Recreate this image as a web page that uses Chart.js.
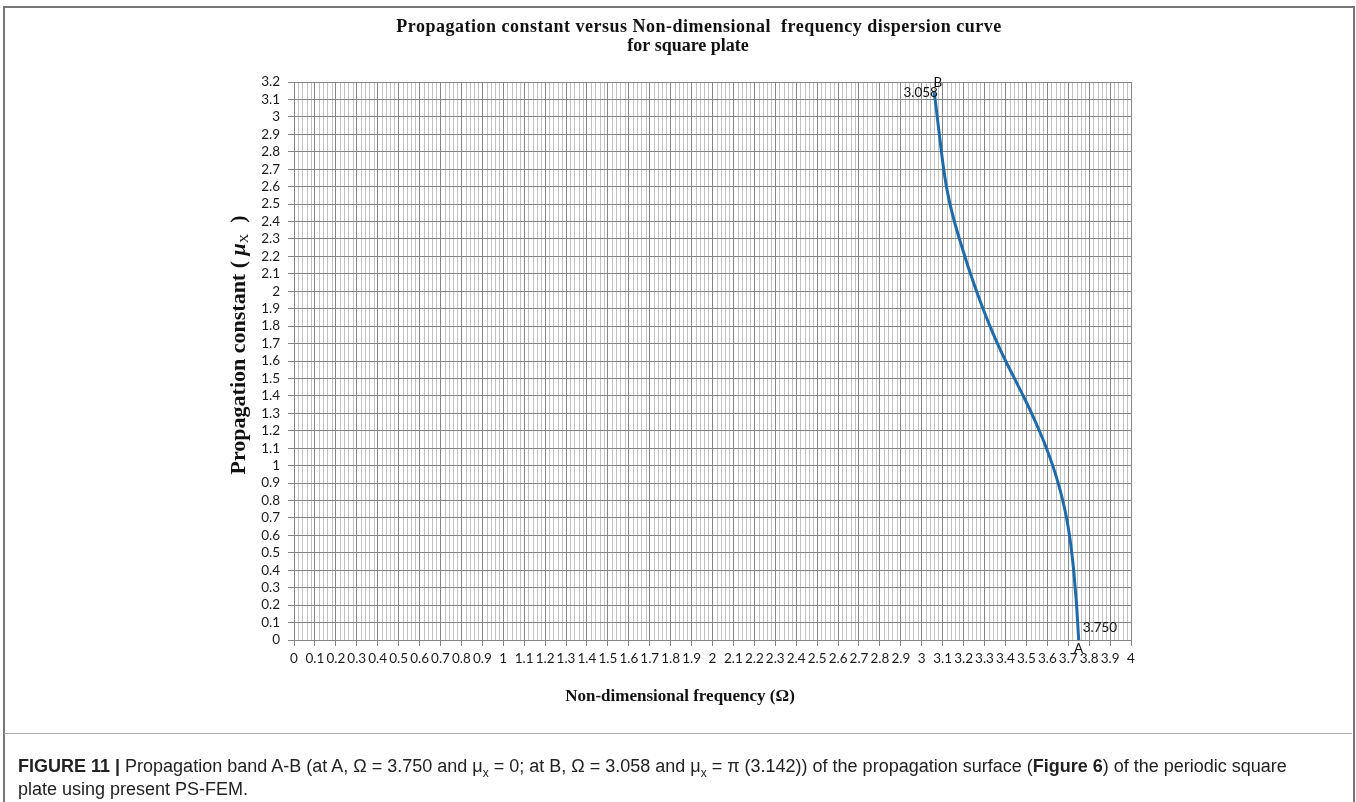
<!DOCTYPE html>
<html>
<head>
<meta charset="utf-8">
<script src="https://cdn.jsdelivr.net/npm/chart.js@4.4.1/dist/chart.umd.min.js"></script>
<style>
    html, body { margin: 0; padding: 0; background: #fff; }
    body { width: 1356px; height: 802px; position: relative; overflow: hidden; }
    #wrap { position: absolute; left: 0; top: 0; width: 1356px; height: 733px; }
    .frame { position: absolute; left: 3px; top: 6px; width: 1348px; height: 900px;
        border: 2px solid #777; border-bottom: none; pointer-events: none; }
    .sep { position: absolute; left: 4px; top: 733px; width: 1348px; height: 1px; background: #aaa; }
    .caption { position: absolute; left: 18px; top: 755px; width: 1330px;
        font: 18px "Liberation Sans", Arial, sans-serif; line-height: 23px; color: #222; }
    .caption sub { font-size: 12px; line-height: 0; }
</style>
</head>
<body>
<div id="wrap"><canvas id="dispersionChart"></canvas></div>
<div class="frame"></div>
<div class="sep"></div>
<div class="caption"><b>FIGURE 11 |</b> Propagation band A-B (at A, Ω = 3.750 and μ<sub>x</sub> = 0; at B, Ω = 3.058 and μ<sub>x</sub> = π (3.142)) of the propagation surface (<b>Figure 6</b>) of the periodic square<br>plate using present PS-FEM.</div>

<script>
// Дані кривої дисперсії (Ω, μx), від точки A до точки B
const omega = [3.750, 3.745, 3.740, 3.733, 3.726, 3.717, 3.706, 3.692, 3.674, 3.652, 3.626,
    3.596, 3.562, 3.525, 3.485, 3.443, 3.401, 3.362, 3.326, 3.293, 3.262, 3.233,
    3.206, 3.180, 3.156, 3.135, 3.118, 3.105, 3.094, 3.084, 3.074, 3.064, 3.058];
const mu = [0, 0.1, 0.2, 0.3, 0.4, 0.5, 0.6, 0.7, 0.8, 0.9, 1.0,
    1.1, 1.2, 1.3, 1.4, 1.5, 1.6, 1.7, 1.8, 1.9, 2.0, 2.1,
    2.2, 2.3, 2.4, 2.5, 2.6, 2.7, 2.8, 2.9, 3.0, 3.1, 3.142];

const pointLabels = ['3.750', '3.058'];
const pointNames = ['A', 'B'];

const titleLines = ['Propagation constant versus Non-dimensional  frequency dispersion curve', 'for square plate'];
const xTitle = 'Non-dimensional frequency (Ω)';

const xMin = 0, xMax = 4, xStep = 0.1, xMinorStep = 0.02;
const yMin = 0, yMax = 3.2, yStep = 0.1;

const serif = '"Liberation Serif", "Times New Roman", serif';
const tickFont = { family: 'Lato, "Open Sans", sans-serif', size: 13.5 };

const fmt = v => String(Number(v.toFixed(1)));

// Дрібна сітка по X (під основною)
const minorGrid = {
    id: 'minorGrid',
    beforeDraw(chart) {
        const { ctx, chartArea, scales } = chart;
        const n = Math.round((xMax - xMin) / xMinorStep);
        const ratio = Math.round(xStep / xMinorStep);
        ctx.save();
        ctx.strokeStyle = '#c2c2c2';
        ctx.lineWidth = 1;
        ctx.beginPath();
        for (let k = 0; k <= n; k++) {
            if (k % ratio === 0) continue;
            const x = Math.round(scales.x.getPixelForValue(xMin + k * xMinorStep)) + 0.5;
            ctx.moveTo(x, chartArea.top);
            ctx.lineTo(x, chartArea.bottom);
        }
        ctx.stroke();
        ctx.restore();
    }
};

// Заголовки та підписи точок
const figureText = {
    id: 'figureText',
    afterDraw(chart) {
        const { ctx } = chart;
        ctx.save();
        ctx.fillStyle = '#111';
        ctx.textAlign = 'center';
        ctx.textBaseline = 'middle';
        ctx.font = 'bold 18px ' + serif;
        ctx.letterSpacing = '0.5px';
        ctx.fillText(titleLines[0], 699, 27);
        ctx.letterSpacing = '0px';
        ctx.fillText(titleLines[1], 688, 46);
        ctx.font = 'bold 17px ' + serif;
        ctx.fillText(xTitle, 680, 697);

        // Y title з курсивом μ та індексом X
        ctx.translate(239, 345);
        ctx.rotate(-Math.PI / 2);
        ctx.textAlign = 'left';
        const parts = [
            { t: 'Propagation constant ( ', f: 'bold 22px ' + serif, dy: 0 },
            { t: 'μ', f: 'italic bold 22px ' + serif, dy: 0 },
            { t: 'X', f: '13px ' + serif, dy: 6 },
            { t: '  )', f: 'bold 22px ' + serif, dy: 0 }
        ];
        let total = 0;
        parts.forEach(p => { ctx.font = p.f; p.w = ctx.measureText(p.t).width; total += p.w; });
        let x = -total / 2;
        parts.forEach(p => { ctx.font = p.f; ctx.fillText(p.t, x, p.dy); x += p.w; });
        ctx.restore();

        // Підписи A і B біля кінців кривої
        const pts = chart.getDatasetMeta(0).data;
        const a = pts[0], b = pts[pts.length - 1];
        ctx.save();
        ctx.fillStyle = '#111';
        ctx.font = '13.5px ' + tickFont.family;
        ctx.textBaseline = 'middle';
        ctx.textAlign = 'left';
        ctx.fillText(pointLabels[0], a.x + 4, a.y - 12);
        ctx.textAlign = 'center';
        ctx.fillText(pointNames[0], a.x, a.y + 9);
        ctx.textAlign = 'right';
        ctx.fillText(pointLabels[1], b.x + 4, b.y + 1);
        ctx.textAlign = 'center';
        ctx.fillText(pointNames[1], b.x + 4, b.y - 9);
        ctx.restore();
    }
};

function renderChart() {
    const ctx = document.getElementById('dispersionChart');
    Chart.defaults.animation = false;

    new Chart(ctx, {
        type: 'scatter',
        data: {
            datasets: [{
                data: omega.map((x, i) => ({ x: x, y: mu[i] })),
                showLine: true,
                borderColor: '#1f6aa8',
                borderWidth: 3,
                pointRadius: 0,
                tension: 0.4
            }]
        },
        options: {
            responsive: true,
            maintainAspectRatio: false,
            animation: false,
            layout: {
                padding: { left: 244, right: 225, top: 82, bottom: 63 }
            },
            plugins: {
                legend: { display: false },
                tooltip: { enabled: false }
            },
            scales: {
                x: {
                    type: 'linear',
                    min: xMin,
                    max: xMax,
                    afterFit: s => { s.height = 30; },
                    ticks: {
                        stepSize: xStep,
                        autoSkip: false,
                        maxRotation: 0,
                        minRotation: 0,
                        padding: 5,
                        color: '#1a1a1a',
                        font: tickFont,
                        callback: v => fmt(v)
                    },
                    grid: { color: '#858585', lineWidth: 1, tickLength: 6 },
                    border: { color: '#858585' }
                },
                y: {
                    type: 'linear',
                    min: yMin,
                    max: yMax,
                    afterFit: s => { s.width = 50; },
                    ticks: {
                        stepSize: yStep,
                        autoSkip: false,
                        padding: 8,
                        color: '#1a1a1a',
                        font: tickFont,
                        callback: v => fmt(v)
                    },
                    grid: { color: '#858585', lineWidth: 1, tickLength: 6 },
                    border: { color: '#858585' }
                }
            }
        },
        plugins: [minorGrid, figureText]
    });
}

document.addEventListener('DOMContentLoaded', renderChart);
</script>
</body>
</html>
